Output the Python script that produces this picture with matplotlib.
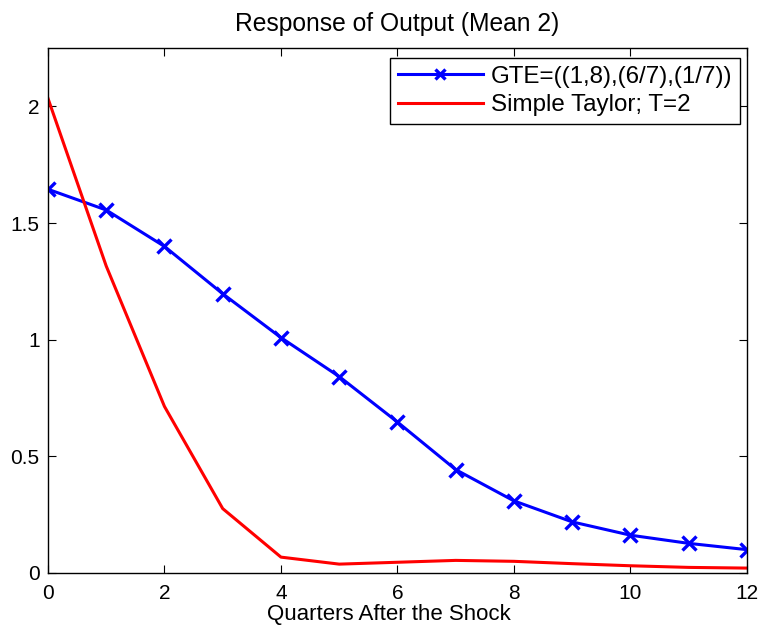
import numpy as np
import matplotlib
matplotlib.use('Agg')
import matplotlib.pyplot as plt

plt.rcParams['font.family'] = ['Liberation Sans', 'DejaVu Sans']

# 数据：冲击后各季度的产出响应
quarters = list(range(13))
gte_values = [1.645, 1.556, 1.400, 1.197, 1.009, 0.842, 0.647, 0.443,
              0.309, 0.219, 0.162, 0.127, 0.100]
taylor_values = [2.035, 1.316, 0.714, 0.276, 0.068, 0.038, 0.046, 0.054,
                 0.050, 0.040, 0.031, 0.024, 0.021]

gte_label = 'GTE=((1,8),(6/7),(1/7))'
taylor_label = 'Simple Taylor; T=2'
x_ticks = [0, 2, 4, 6, 8, 10, 12]
y_ticks = [0, 0.5, 1, 1.5, 2]
y_tick_labels = ['0', '0.5', '1', '1.5', '2']

fig = plt.figure(figsize=(7.61, 6.33), dpi=100)
ax = fig.add_axes([0.063, 0.0948, 0.9186, 0.8292])

ax.plot(quarters, gte_values, color='#0000FF', linewidth=2.2, marker='x',
        markersize=10, markeredgewidth=2.4, label=gte_label)
ax.plot(quarters, taylor_values, color='#FF0000', linewidth=2.2, label=taylor_label)

ax.set_xlim(0, 12)
ax.set_ylim(0, 2.25)
ax.set_xticks(x_ticks)
ax.set_yticks(y_ticks)
ax.set_yticklabels(y_tick_labels)
ax.tick_params(direction='in', length=6, width=0.8, labelsize=15,
               top=True, right=True)
ax.tick_params(axis='x', pad=8)
ax.tick_params(axis='y', pad=6)
for s in ax.spines.values():
    s.set_linewidth(1.0)

ax.set_title('Response of Output (Mean 2)', fontsize=17.7, pad=12)
ax.set_xlabel('Quarters After the Shock', fontsize=16)
ax.xaxis.set_label_coords(0.487, -0.06)
ax.xaxis.label.set_va('top')

leg = ax.legend(loc='upper right', bbox_to_anchor=(0.99, 0.982), fontsize=17.4,
                frameon=True, fancybox=False, framealpha=1, edgecolor='black',
                handlelength=3.5, handletextpad=0.33, labelspacing=0.27,
                borderpad=0.33, borderaxespad=0, markerscale=0.75)
leg.get_frame().set_linewidth(1.0)

fig.savefig('out.png', dpi=100, facecolor='white')
